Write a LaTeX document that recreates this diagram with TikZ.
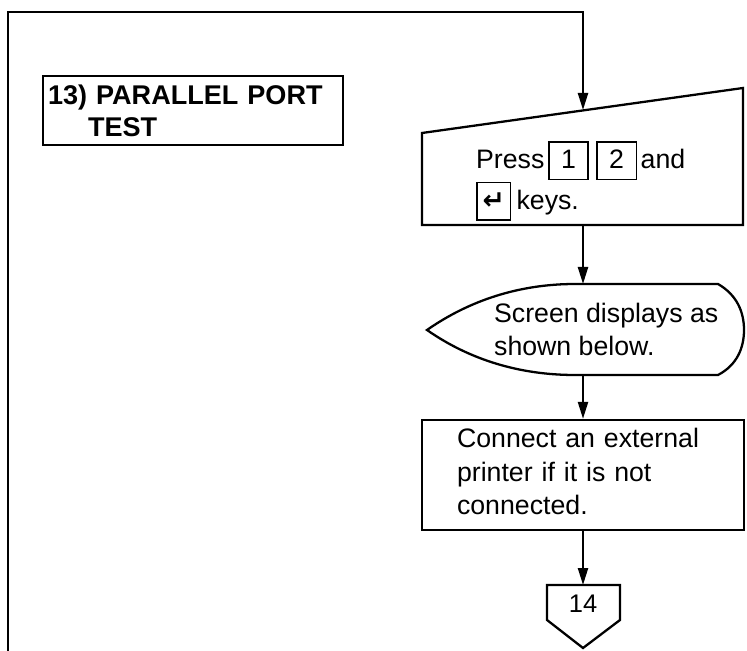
\documentclass[tikz,border=0pt]{standalone}
\usepackage{xcolor}
\usepackage{tikz}
\usepackage{fontspec}
\setmainfont{Liberation Sans}
\newfontfamily\simbolos{DejaVu Sans}
\usetikzlibrary{arrows.meta}

% Tecla enmarcada
\newcommand{\tecla}[2][21.6pt]{{\setlength{\fboxsep}{0pt}\setlength{\fboxrule}{0.9pt}\fbox{\rule[-5.7pt]{0pt}{20.5pt}\makebox[#1]{#2}}}}

\begin{document}
\begin{tikzpicture}[x=0.02cm,y=-0.02cm,line width=1.3pt,
    flecha/.style={-{Triangle[length=3.4mm,width=2mm]}},
    caja/.style={draw,rectangle,align=left,font=\fontsize{15.2pt}{18.8pt}\selectfont},
    texto/.style={align=left,inner sep=0pt,anchor=west,font=\fontsize{15.2pt}{18.8pt}\selectfont}]

    % Marco
    \useasboundingbox (0,0) rectangle (747,651);

    % Titulo
    \node[caja,font=\bfseries\fontsize{15.4pt}{18.2pt}\selectfont,minimum width=6cm,minimum height=1.38cm,text width=5.8cm,inner xsep=0.1cm] (titulo) at (193,110.5) {13) PARALLEL PORT\\\hspace*{0.8cm}TEST};

    % Entrada manual
    \coordinate (entradaArriba) at (583,110);
    \coordinate (entradaAbajo) at (583,225);
    \draw (422,133) -- (743,88) -- (743,225) -- (422,225) -- cycle;
    \node[texto,font=\fontsize{15.2pt}{22.2pt}\selectfont] (pulsar) at (475,181) {Press\hspace{2pt}\tecla{1}\hspace{4pt}\tecla{2}\hspace{2pt}and\\\tecla[18.2pt]{\simbolos\bfseries ↵}\hspace{3pt}keys.};

    % Pantalla
    \coordinate (pantallaArriba) at (583,284);
    \coordinate (pantallaAbajo) at (583,375);
    \draw (427,330) .. controls (470,300) and (520,284) .. (575,284) -- (718,284)
        .. controls (737,295) and (744,312) .. (744,330)
        .. controls (744,348) and (737,365) .. (718,375) -- (575,375)
        .. controls (520,375) and (470,360) .. (427,330) -- cycle;
    \node[texto] (pantalla) at (493,329) {Screen displays as\\shown below.};

    % Conectar impresora
    \node[caja,minimum width=6.44cm,minimum height=2.2cm,text width=5.04cm,inner xsep=0.7cm] (conectar) at (583,475) {Connect an external\\printer if it is not\\connected.\vspace*{4pt}};

    % Conector de pagina
    \coordinate (conectorArriba) at (583,585);
    \draw (547,585) -- (620,585) -- (620,620) -- (583,648) -- (547,620) -- cycle;
    \node[font=\fontsize{14.5pt}{16pt}\selectfont] (siguiente) at (583,604) {14};

    % Flechas
    \coordinate (retorno) at (8,651);
    \coordinate (esquina) at (583,12);
    \draw[flecha] (retorno) |- (esquina) -- (entradaArriba);
    \draw[flecha] (entradaAbajo) -- (pantallaArriba);
    \draw[flecha] (pantallaAbajo) -- (conectar.north);
    \draw[flecha] (conectar.south) -- (conectorArriba);

\end{tikzpicture}
\end{document}
